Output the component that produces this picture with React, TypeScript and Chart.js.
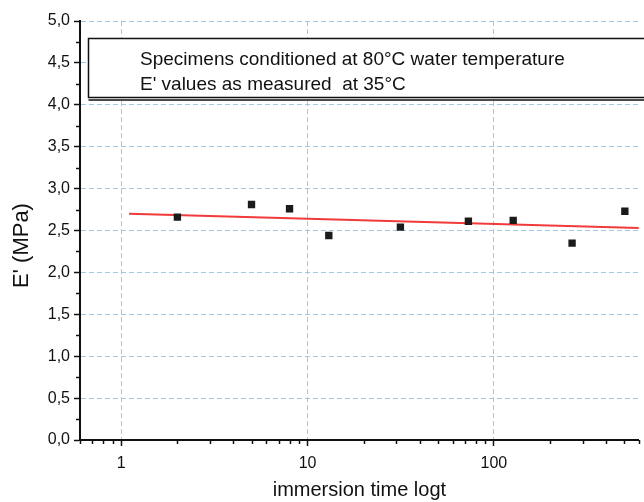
import React, { useEffect, useRef } from 'react';
import { Chart, registerables } from 'chart.js';

Chart.register(...registerables);

// Measured E' values vs. immersion time (log scale)
const TIME_DAYS = [2, 5, 8, 13, 31.5, 73, 127, 263, 505];
const E_PRIME = [2.66, 2.81, 2.76, 2.44, 2.54, 2.61, 2.62, 2.35, 2.73];

// Linear fit (in log t) end points
const FIT_TIME = [1.1, 600];
const FIT_E = [2.7, 2.53];

// Axis ticks
const X_MAJOR = [1, 10, 100];
const X_MINOR = [0.6, 0.7, 0.8, 0.9, 2, 3, 4, 5, 6, 7, 8, 9, 20, 30, 40, 50, 60, 70, 80, 90, 200, 300, 400, 500, 600];
const Y_MINOR = [0.25, 0.75, 1.25, 1.75, 2.25, 2.75, 3.25, 3.75, 4.25, 4.75];

const BOX_LINES = ['Specimens conditioned at 80°C water temperature', "E' values as measured  at 35°C"];
const X_TITLE = 'immersion time logt';
const Y_TITLE = "E' (MPa)";

const FONT = "'Liberation Sans', Arial, sans-serif";
const GRID_BLUE = 'rgba(150, 195, 230, 0.9)';

const extrasPlugin = {
  id: 'extras',
  afterDraw(chart: any) {
    const { ctx, chartArea, scales } = chart;
    const xs = scales.x;
    const ys = scales.y;
    ctx.save();
    // minor ticks
    ctx.strokeStyle = '#111';
    ctx.lineWidth = 1.5;
    ctx.beginPath();
    X_MINOR.forEach((v) => {
      const px = Math.round(xs.getPixelForValue(v)) + 0.5;
      ctx.moveTo(px, chartArea.bottom);
      ctx.lineTo(px, chartArea.bottom + 4);
    });
    Y_MINOR.forEach((v) => {
      const py = Math.round(ys.getPixelForValue(v)) + 0.5;
      ctx.moveTo(chartArea.left, py);
      ctx.lineTo(chartArea.left - 4, py);
    });
    ctx.stroke();

    // annotation box
    const bx = chartArea.left + 8.5;
    const by = chartArea.top + 17.5;
    const bw = chart.width - bx + 10;
    const bh = 59;
    ctx.fillStyle = '#ffffff';
    ctx.fillRect(bx, by, bw, bh);
    ctx.strokeStyle = '#111';
    ctx.lineWidth = 1.5;
    ctx.strokeRect(bx, by, bw, bh);
    ctx.beginPath();
    ctx.moveTo(bx, by + bh + 2.5);
    ctx.lineTo(bx + bw, by + bh + 2.5);
    ctx.stroke();

    ctx.fillStyle = '#111';
    ctx.font = `19px ${FONT}`;
    ctx.textAlign = 'left';
    ctx.textBaseline = 'alphabetic';
    ctx.fillText(BOX_LINES[0], chartArea.left + 60, chartArea.top + 44);
    ctx.fillText(BOX_LINES[1], chartArea.left + 60, chartArea.top + 69);

    // y axis title
    ctx.translate(22, (chartArea.top + chartArea.bottom) / 2 + 15);
    ctx.rotate(-Math.PI / 2);
    ctx.font = `22px ${FONT}`;
    ctx.textAlign = 'center';
    ctx.textBaseline = 'middle';
    ctx.fillText(Y_TITLE, 0, 0);
    ctx.restore();
  },
};

export default function App() {
  const canvasRef = useRef<HTMLCanvasElement | null>(null);

  useEffect(() => {
    const canvas = canvasRef.current;
    if (!canvas) return;
    const points = TIME_DAYS.map((t, i) => ({ x: t, y: E_PRIME[i] }));
    const fit = FIT_TIME.map((t, i) => ({ x: t, y: FIT_E[i] }));

    const chart = new Chart(canvas, {
      type: 'scatter',
      data: {
        datasets: [
          {
            label: "E'",
            data: points,
            pointStyle: 'rect',
            pointRadius: 5.2,
            pointBackgroundColor: '#1b1b1b',
            pointBorderColor: '#1b1b1b',
            pointBorderWidth: 0,
            showLine: false,
          },
          {
            label: 'fit',
            data: fit,
            showLine: true,
            borderColor: '#f23a3a',
            borderWidth: 2,
            pointRadius: 0,
          },
        ],
      },
      options: {
        responsive: false,
        animation: false,
        devicePixelRatio: 1,
        layout: { padding: { top: 21, right: 4, left: 0, bottom: 0 } },
        plugins: {
          legend: { display: false },
          tooltip: { enabled: false },
        },
        scales: {
          x: {
            type: 'logarithmic',
            min: 0.6,
            max: 600,
            afterBuildTicks: (scale: any) => {
              scale.ticks = X_MAJOR.map((v) => ({ value: v }));
            },
            afterFit: (scale: any) => {
              scale.height = 62;
            },
            ticks: {
              autoSkip: false,
              maxRotation: 0,
              padding: 8,
              color: '#111',
              font: { family: FONT, size: 16 },
              callback: (v: any) => String(v),
            },
            grid: {
              color: GRID_BLUE,
              lineWidth: 1,
              tickColor: '#111',
              tickLength: 6,
              tickWidth: 1.5,
            },
            border: { display: true, color: '#111', width: 2, dash: [5, 3] },
            title: {
              display: true,
              text: X_TITLE,
              color: '#111',
              font: { family: FONT, size: 20 },
              padding: { top: 0, bottom: 0 },
            },
          },
          y: {
            type: 'linear',
            min: 0,
            max: 5,
            afterFit: (scale: any) => {
              scale.width = 80;
            },
            ticks: {
              stepSize: 0.5,
              padding: 4,
              color: '#111',
              font: { family: FONT, size: 16 },
              callback: (v: any) => Number(v).toFixed(1).replace('.', ','),
            },
            grid: {
              color: (c: any) => (c.tick && c.tick.value === 0 ? 'rgba(0,0,0,0)' : GRID_BLUE),
              lineWidth: 1,
              tickColor: '#111',
              tickLength: 6,
              tickWidth: 1.5,
            },
            border: { display: true, color: '#111', width: 2, dash: [5, 3] },
          },
        },
      },
      plugins: [extrasPlugin],
    } as any);

    return () => chart.destroy();
  }, []);

  return (
    <div style={{ position: 'absolute', left: 0, top: 0, width: 644, height: 502, background: '#fff' }}>
      <canvas ref={canvasRef} width={644} height={502} style={{ width: 644, height: 502 }} />
    </div>
  );
}
